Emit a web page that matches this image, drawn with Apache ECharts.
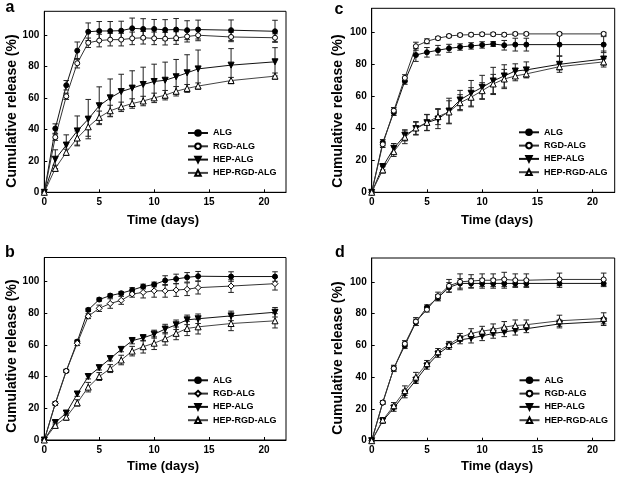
<!DOCTYPE html>
<html>
<head>
<meta charset="utf-8">
<script src="https://cdn.jsdelivr.net/npm/echarts@6/dist/echarts.min.js"></script>
<style>
html,body{margin:0;padding:0;background:#fff;}
#chart{width:624px;height:477px;}
</style>
</head>
<body>
<div id="chart"></div>
<script>
// ---- Data ----
const days = [0,1,2,3,4,5,6,7,8,9,10,11,12,13,14,17,21];
const seriesNames = ['ALG','RGD-ALG','HEP-ALG','HEP-RGD-ALG'];
const yTicks = [0,20,40,60,80,100];
const xTicks = [0,5,10,15,20];

// panel a
const a_ALG      = [0,40.5,68,90,102,102.5,102.5,102.7,104.2,103.8,103.8,103.2,103.4,103,103.4,103,102.3];
const a_ALG_err  = [0,3,3,5.5,5.6,6,6,6,6.5,6.5,6,6.5,7,6,6,6.5,7];
const a_RGD      = [0,35,61,82,95,96.4,97,97,97.8,98.2,97.8,97.6,98,99,99.8,98.7,98.2];
const a_RGD_err  = [0,2,2,3,3,4,4,4,4,4,4,4,4,3.5,3.5,3,2.5];
const a_HEP      = [0,21,30,39,46.5,55,60,64,66.2,68.5,70.4,71.2,73.4,75.9,78.4,80.8,82.9];
const a_HEP_err  = [0,6,6.5,9.5,12.5,12,12,11,11,11,11,11.5,11,11.5,12,10.5,9];
const a_HRGD     = [0,15.2,25.4,34.5,41.6,47.6,51.8,54.3,56.4,58,60,61.7,64.2,66,67.5,71,73.8];
const a_HRGD_err = [0,2,2,4.5,6,4,3.5,3,3,3,3,3,3,2.5,2,2,2];

// panel b
const b_ALG      = [0,23,43.5,62,82,88.5,91,92.5,94.5,96.7,98,100.5,101.5,102.5,103.2,103,103];
const b_ALG_err  = [0,1,1,1,1,1,1,1,1.5,1.5,1.5,3,3,3,3,3,3];
const b_RGD      = [0,23,43.5,61,78,83,86,88,92,93,94,94,94.5,95,96,97,98.5];
const b_RGD_err  = [0,1,1,1.5,1.5,2,3,2.5,2,3.5,4,4,4,4,4,4,4];
const b_HEP      = [0,11,17,29,40,45.6,51.3,57.1,62.6,64.4,66.7,69.9,72.6,75.7,76.4,78.2,80.5];
const b_HEP_err  = [0,1.5,1.5,1.5,1.5,1.5,1.5,1.5,2,2,2.5,3,3,3,3,3,3];
const b_HRGD     = [0,9.2,14.4,23.4,33.3,40,45,50.4,56,58.8,61,63.8,67.2,70.3,71.3,73.4,75.1];
const b_HRGD_err = [0,1.5,2,2,3,2.5,2.5,3,3,4,4,4,4,4.5,4.5,4.5,4.5];

// panel c
const c_ALG      = [0,31,50,69.5,85.8,87.5,88.8,90,90.8,91.5,92.1,92.7,91.9,92.3,92.3,92.3,92.3];
const c_ALG_err  = [0,2,2,2,4,3,3,2.5,2,2,2,1.5,3,4,4,7,5];
const c_RGD      = [0,30,51,71.5,91.3,94.4,96.3,97.7,98.3,98.5,98.8,98.8,98.5,99,99,99,99];
const c_RGD_err  = [0,2,2,2,2.5,1.5,1,1,1,1,1,1,1,1,1,1,1];
const c_HEP      = [0,16,27.5,35.6,39.8,43.5,45.8,50.8,57.7,61.9,65.6,69.6,72.7,75.8,76.5,80,83.3];
const c_HEP_err  = [0,2,3,3.5,4,5,6,8,6,8,7.5,8.5,7,4.5,5,5,5];
const c_HRGD     = [0,14,25.4,34.4,40.2,43.7,47.3,50.2,56,59.4,63.5,67.7,70.8,72.7,74,78.5,81.5];
const c_HRGD_err = [0,2,3,4,4,5,5,7,5,6,5,6,6,3,2,2,2];

// panel d
const d_ALG      = [0,24,45.5,60,74.5,84,90,96.5,99,99,99,99,99,99,99,99,99];
const d_ALG_err  = [0,1,1.5,2,2,1.5,2,3,3,3,3,3,3,2.5,2.5,2.5,2];
const d_RGD      = [0,24,45.5,61,75,82.5,91,97.5,100,100.5,101,101,101.5,101,101,101.5,101.5];
const d_RGD_err  = [0,1,2,2,2.5,1.5,2.5,4,5,4,4,4,4.5,4,4,4,4];
const d_HEP      = [0,12.5,20.5,29.5,38,47,54.5,59.5,63.5,64.5,66,67.5,68.5,69.5,70.5,73.5,75];
const d_HEP_err  = [0,1.5,2,2.5,2,2,2,2,2.5,3,3,3,3,3,2.5,2.5,2.5];
const d_HRGD     = [0,13,22,31.5,40,48.5,56,60.5,65,67.5,69,70,71.5,72.5,73,75.5,77];
const d_HRGD_err = [0,1.5,2,3,3,2,2,2,2.5,3,3,3.5,3.5,3.5,3,3.5,3.5];

// ---- Layout / styles ----
const FONT = 'Arial, "Liberation Sans", sans-serif';
const panels = [
  {id:'a', grid:{left:44.3, top:11.3, width:241.7, height:181}, vals:[a_ALG,a_RGD,a_HEP,a_HRGD], errs:[a_ALG_err,a_RGD_err,a_HEP_err,a_HRGD_err], rgdSym:'circle',
   legend:{left:187, top:128.5}, ytitle:[12,111], xtitle:[163,220], letter:[10,8]},
  {id:'b', grid:{left:44.3, top:257.5, width:241.7, height:182.5}, vals:[b_ALG,b_RGD,b_HEP,b_HRGD], errs:[b_ALG_err,b_RGD_err,b_HEP_err,b_HRGD_err], rgdSym:'diamond',
   legend:{left:187, top:375.8}, ytitle:[12,356], xtitle:[163,466], letter:[10,253]},
  {id:'c', grid:{left:371.7, top:8.3, width:243, height:184}, vals:[c_ALG,c_RGD,c_HEP,c_HRGD], errs:[c_ALG_err,c_RGD_err,c_HEP_err,c_HRGD_err], rgdSym:'circle',
   legend:{left:518, top:127.8}, ytitle:[338,111], xtitle:[497,220], letter:[339,10]},
  {id:'d', grid:{left:371.7, top:258, width:243, height:182.7}, vals:[d_ALG,d_RGD,d_HEP,d_HRGD], errs:[d_ALG_err,d_RGD_err,d_HEP_err,d_HRGD_err], rgdSym:'circle',
   legend:{left:518.5, top:375.8}, ytitle:[338,358], xtitle:[497,466], letter:[340,253]}
];

const grids=[], xAxes=[], yAxes=[], series=[], legends=[], graphics=[];

panels.forEach((p, gi) => {
  grids.push(Object.assign({show:true, borderColor:'#000', borderWidth:1, backgroundColor:'transparent', containLabel:false, outerBoundsMode:'none'}, p.grid));
  xAxes.push({
    type:'value', gridIndex:gi, min:0, max:22, interval:5,
    axisLine:{show:true, onZero:false, lineStyle:{color:'#000', width:1}},
    axisTick:{show:true, inside:true, length:3, lineStyle:{color:'#000'}},
    axisLabel:{color:'#000', fontSize:10, fontWeight:'bold', fontFamily:FONT, margin:5, showMaxLabel:false,
      formatter: v => xTicks.indexOf(v) >= 0 ? String(v) : ''},
    splitLine:{show:false}
  });
  yAxes.push({
    type:'value', gridIndex:gi, min:0, max:115, interval:20,
    axisLine:{show:true, onZero:false, lineStyle:{color:'#000', width:1}},
    axisTick:{show:true, inside:true, length:3, lineStyle:{color:'#000'}},
    axisLabel:{color:'#000', fontSize:10, fontWeight:'bold', fontFamily:FONT, margin:5, showMaxLabel:false,
      formatter: v => yTicks.indexOf(v) >= 0 ? String(v) : ''},
    splitLine:{show:false}
  });
  const syms = [
    {symbol:'circle', fill:'#000', rot:0, size:5, line:'#111'},
    {symbol:p.rgdSym, fill:'#fff', rot:0, size: p.rgdSym==='diamond'?6:5, line:'#333'},
    {symbol:'triangle', fill:'#000', rot:180, size:6, line:'#111'},
    {symbol:'triangle', fill:'#fff', rot:0, size:6, line:'#444'}
  ];
  const names = [];
  seriesNames.forEach((sn, si) => {
    const full = p.id + '|' + sn;
    names.push(full);
    const vals = p.vals[si], errs = p.errs[si];
    // error bars
    series.push({
      type:'custom', xAxisIndex:gi, yAxisIndex:gi, clip:false, z:2, silent:true,
      data: days.map((d,i) => [d, vals[i], errs[i]]),
      renderItem: (params, api) => {
        const x = api.value(0), y = api.value(1), e = api.value(2);
        if (!e) return null;
        const top = api.coord([x, y + e]);
        const bot = api.coord([x, y - e]);
        const cw = 2.8;
        const st = {stroke:'#222', lineWidth:1};
        return {type:'group', children:[
          {type:'line', shape:{x1:top[0], y1:top[1], x2:bot[0], y2:bot[1]}, style:st},
          {type:'line', shape:{x1:top[0]-cw, y1:top[1], x2:top[0]+cw, y2:top[1]}, style:st},
          {type:'line', shape:{x1:bot[0]-cw, y1:bot[1], x2:bot[0]+cw, y2:bot[1]}, style:st}
        ]};
      }
    });
    const s = syms[si];
    series.push({
      name: full, type:'line', xAxisIndex:gi, yAxisIndex:gi, z:3,
      data: days.map((d,i) => [d, vals[i]]),
      symbol: s.symbol, symbolSize: s.size, symbolRotate: s.rot, showAllSymbol:true,
      lineStyle:{color:s.line, width:1},
      itemStyle:{color:s.fill, borderColor:'#000', borderWidth:1, opacity:1},
      emphasis:{disabled:true}, animation:false
    });
  });
  legends.push({
    data: names, orient:'vertical', left:p.legend.left, top:p.legend.top, padding:0,
    itemWidth:20, itemHeight:7, itemGap:4.3, selectedMode:false,
    formatter: n => n.split('|')[1],
    textStyle:{color:'#000', fontSize:9, fontWeight:'bold', fontFamily:FONT, lineHeight:9}
  });
  graphics.push({type:'text', x:p.ytitle[0], y:p.ytitle[1], rotation:Math.PI/2,
    style:{text:'Cumulative release (%)', fill:'#000', font:'bold 14px ' + FONT, textAlign:'center', textVerticalAlign:'middle'}});
  graphics.push({type:'text', x:p.xtitle[0], y:p.xtitle[1],
    style:{text:'Time (days)', fill:'#000', font:'bold 13px ' + FONT, textAlign:'center', textVerticalAlign:'middle'}});
  graphics.push({type:'text', x:p.letter[0], y:p.letter[1],
    style:{text:p.id, fill:'#000', font:'bold 16px ' + FONT, textAlign:'center', textVerticalAlign:'middle'}});
});

const chart = echarts.init(document.getElementById('chart'), null, {renderer:'canvas'});
chart.setOption({
  backgroundColor:'#fff',
  animation:false,
  grid: grids, xAxis: xAxes, yAxis: yAxes,
  legend: legends, series: series,
  graphic: {elements: graphics}
});
</script>
</body>
</html>
